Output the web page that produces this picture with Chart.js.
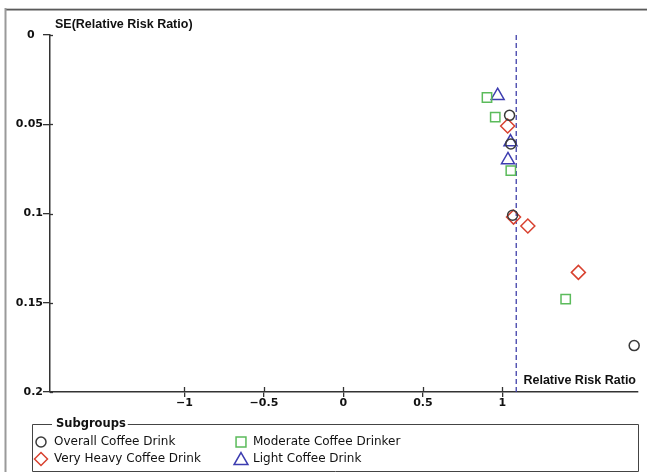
<!DOCTYPE html>
<html>
<head>
<meta charset="utf-8">
<title>Funnel plot – coffee consumption subgroups</title>
<script src="https://cdn.jsdelivr.net/npm/chart.js@4.4.1/dist/chart.umd.min.js"></script>
<style>
  html, body { margin: 0; padding: 0; background: #fff; }
  #wrap { position: relative; width: 647px; height: 472px; }
  canvas { display: block; }
</style>
</head>
<body>
<div id="wrap"><canvas id="funnel" width="647" height="472"></canvas></div>
<script>
// Subgroup names (legend order: column by column)
const seriesNames = ['Overall Coffee Drink', 'Very Heavy Coffee Drink', 'Moderate Coffee Drinker', 'Light Coffee Drink'];

// Relative risk ratio (x) and its standard error (y) for each study
const overallRR   = [1.045, 1.053, 1.064, 1.829];
const overallSE   = [0.045, 0.061, 0.101, 0.174];
const veryHeavyRR = [1.033, 1.070, 1.160, 1.478];
const veryHeavySE = [0.051, 0.102, 0.107, 0.133];
const moderateRR  = [0.903, 0.955, 1.053, 1.398];
const moderateSE  = [0.035, 0.046, 0.076, 0.148];
const lightRR     = [0.970, 1.051, 1.035];
const lightSE     = [0.034, 0.060, 0.070];

// Pooled estimate shown as the dashed reference line
const pooledRR = 1.087;
const pooledSE = [0, 0.2];

// Tick labels
const xTickValues = [-1, -0.5, 0, 0.5, 1];
const yTickValues = [0, 0.05, 0.1, 0.15, 0.2];

const xTitle = 'Relative Risk Ratio';
const yTitle = 'SE(Relative Risk Ratio)';
const legendTitle = 'Subgroups';

const axisColor = '#333';
const tickFont = { family: 'DejaVu Sans', weight: 'bold', size: 11 };
const titleFont = 'bold 12.5px "Liberation Sans", Arial, sans-serif';

const toPoints = (xs, ys) => xs.map((x, i) => ({ x: x, y: ys[i] }));
const fmt = v => (v < 0 ? '\u2212' + String(Math.abs(v)) : String(v));

const markerStyles = [
  { pointStyle: 'circle',   color: '#3a3a3a', radius: 5,   legendRadius: 5 },
  { pointStyle: 'rectRot',  color: '#d8412f', radius: 7,   legendRadius: 6.5 },
  { pointStyle: 'rect',     color: '#5bbb5b', radius: 6.6, legendRadius: 7 },
  { pointStyle: 'triangle', color: '#3d3db0', radius: 7.5, legendRadius: 8 }
];

const seriesData = [
  toPoints(overallRR, overallSE),
  toPoints(veryHeavyRR, veryHeavySE),
  toPoints(moderateRR, moderateSE),
  toPoints(lightRR, lightSE)
];

const datasets = seriesData.map((pts, i) => ({
  label: seriesNames[i],
  data: pts,
  showLine: false,
  clip: false,
  pointStyle: markerStyles[i].pointStyle,
  pointRadius: markerStyles[i].radius,
  pointHoverRadius: markerStyles[i].radius,
  pointBorderWidth: 1.5,
  pointBorderColor: markerStyles[i].color,
  pointBackgroundColor: 'rgba(0,0,0,0)',
  borderColor: markerStyles[i].color
}));

// dashed vertical line at the pooled estimate (drawn first, behind the markers)
datasets.push({
  label: '',
  type: 'line',
  data: pooledSE.map(se => ({ x: pooledRR, y: se })),
  borderColor: '#4040aa',
  borderWidth: 1.3,
  borderDash: [5, 3],
  pointRadius: 0,
  fill: false
});

const decor = {
  id: 'decor',
  beforeDraw(chart) {
    const ctx = chart.ctx;
    ctx.save();
    ctx.fillStyle = '#fff';
    ctx.fillRect(0, 0, chart.width, chart.height);
    // figure frame (top and left edges)
    ctx.fillStyle = '#c8c8c8';
    ctx.fillRect(5, 8, chart.width - 5, 1);
    ctx.fillStyle = '#5a5a5a';
    ctx.fillRect(5, 9, chart.width - 5, 1.5);
    ctx.fillStyle = '#9a9a9a';
    ctx.fillRect(4.5, 8, 2, chart.height - 8);
    ctx.restore();
  },
  afterDraw(chart) {
    const ctx = chart.ctx;
    const xs = chart.scales.x, ys = chart.scales.y;
    const area = chart.chartArea;
    ctx.save();

    // tick marks crossing the axis lines
    ctx.strokeStyle = axisColor;
    ctx.lineWidth = 1.3;
    xTickValues.forEach(v => {
      const px = Math.round(xs.getPixelForValue(v)) + 0.5;
      ctx.beginPath();
      ctx.moveTo(px, area.bottom - 5);
      ctx.lineTo(px, area.bottom);
      ctx.stroke();
    });
    yTickValues.forEach(v => {
      const py = Math.round(ys.getPixelForValue(v)) + 0.5;
      ctx.beginPath();
      ctx.moveTo(area.left, py);
      ctx.lineTo(area.left + 3, py);
      ctx.stroke();
    });

    // axis titles
    ctx.fillStyle = '#111';
    ctx.font = titleFont;
    ctx.textBaseline = 'middle';
    ctx.textAlign = 'left';
    ctx.fillText(yTitle, area.left + 5, 25);
    ctx.textAlign = 'right';
    ctx.fillText(xTitle, area.right - 2, area.bottom - 11);

    // legend box with title set into its top edge
    const box = { left: 32.5, top: 424.5, right: 638.5, bottom: 471.5 };
    ctx.font = 'bold 11.5px "DejaVu Sans", sans-serif';
    const tw = ctx.measureText(legendTitle).width;
    const tx = 56, gapL = tx - 4, gapR = tx + tw + 2;
    ctx.strokeStyle = '#444';
    ctx.lineWidth = 1;
    ctx.beginPath();
    ctx.moveTo(gapL, box.top);
    ctx.lineTo(box.left, box.top);
    ctx.lineTo(box.left, box.bottom);
    ctx.lineTo(box.right, box.bottom);
    ctx.lineTo(box.right, box.top);
    ctx.lineTo(gapR, box.top);
    ctx.stroke();
    ctx.textAlign = 'left';
    ctx.textBaseline = 'middle';
    ctx.fillStyle = '#111';
    ctx.fillText(legendTitle, tx, box.top);

    const colMarkerX = [41, 241];
    const colTextX = [54, 253];
    const rowY = [442, 459];
    ctx.font = '12px "DejaVu Sans", sans-serif';
    chart.data.datasets.forEach((ds, i) => {
      if (!ds.label) return;
      const col = Math.floor(i / 2), row = i % 2;
      const st = markerStyles[i];
      ctx.save();
      ctx.strokeStyle = st.color;
      ctx.fillStyle = 'rgba(0,0,0,0)';
      ctx.lineWidth = 1.5;
      Chart.helpers.drawPoint(ctx, {
        pointStyle: st.pointStyle, radius: st.legendRadius, rotation: 0, borderWidth: 1.5
      }, colMarkerX[col], rowY[row] + (st.pointStyle === 'triangle' ? 1.5 : 0));
      ctx.restore();
      ctx.fillStyle = '#111';
      ctx.fillText(ds.label, colTextX[col], rowY[row]);
    });
    ctx.restore();
  }
};

new Chart(document.getElementById('funnel'), {
  type: 'scatter',
  data: { datasets: datasets },
  options: {
    responsive: false,
    animation: false,
    events: [],
    layout: { padding: { top: 35, right: 7, left: 0, bottom: 0 } },
    plugins: { legend: { display: false }, tooltip: { enabled: false }, title: { display: false } },
    scales: {
      x: {
        type: 'linear',
        position: 'bottom',
        min: -1.846,
        max: 1.853,
        afterBuildTicks: s => { s.ticks = xTickValues.map(v => ({ value: v })); },
        afterFit: s => { s.height = 80; },
        grid: { display: true, drawOnChartArea: false, drawTicks: true, tickLength: 5, color: axisColor, lineWidth: 1.3 },
        border: { display: true, color: axisColor, width: 1.5 },
        ticks: { font: tickFont, color: '#111', padding: 0, maxRotation: 0, autoSkip: false, callback: v => fmt(v) }
      },
      y: {
        type: 'linear',
        reverse: true,
        min: 0,
        max: 0.2,
        afterBuildTicks: s => { s.ticks = yTickValues.map(v => ({ value: v })); },
        afterFit: s => { s.width = 50; },
        grid: { display: true, drawOnChartArea: false, drawTicks: true, tickLength: 7, color: axisColor, lineWidth: 1.3 },
        border: { display: true, color: axisColor, width: 1.5 },
        ticks: { font: tickFont, color: '#111', padding: 0, autoSkip: false, callback: v => (v === 0 ? '0\u2002\u2005' : fmt(v)) }
      }
    }
  },
  plugins: [decor]
});
</script>
</body>
</html>
